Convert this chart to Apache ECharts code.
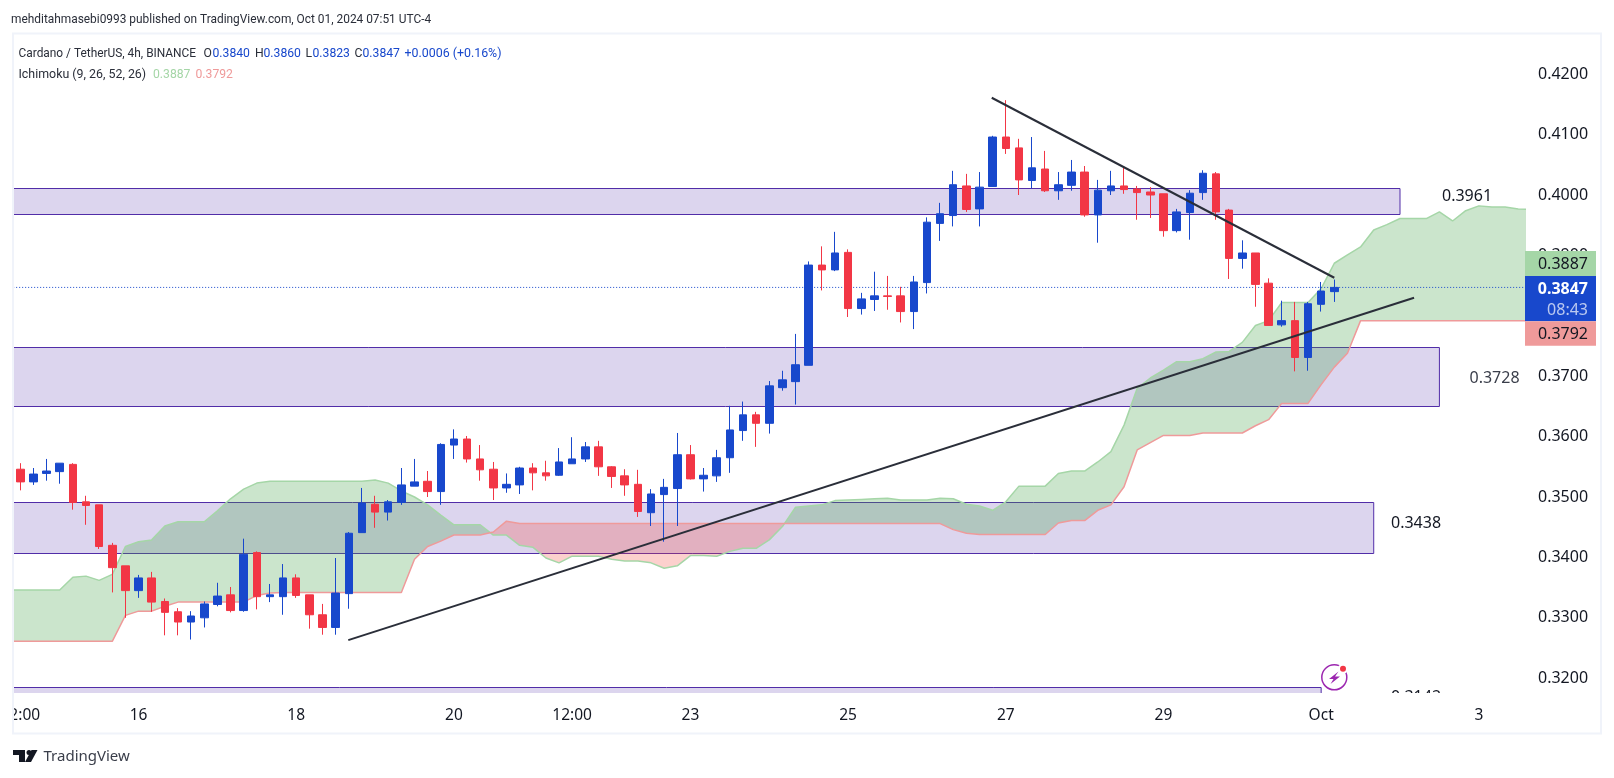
<!DOCTYPE html>
<html>
<head>
<meta charset="utf-8">
<style>html,body{margin:0;padding:0;background:#fff}#c{width:1614px;height:778px}</style>
<script src="https://cdn.jsdelivr.net/npm/echarts@6/dist/echarts.min.js"></script>
</head>
<body>
<div id="c"></div>
<script>
// [open, close, low, high], one 4h candle per row
const candles = [
[.3546,.3525,.3511,.3556],[.3525,.3538,.3520,.3548],[.3539,.3543,.3527,.3563],[.3542,.3556,.3522,.3556],
[.3554,.3491,.3479,.3556],[.3492,.3486,.3454,.3502],[.3487,.3418,.3414,.3487],[.3420,.3383,.3342,.3424],
[.3386,.3345,.3300,.3386],[.3345,.3366,.3333,.3371],[.3366,.3326,.3310,.3376],[.3327,.3309,.3271,.3332],
[.3310,.3293,.3271,.3316],[.3293,.3303,.3264,.3311],[.3300,.3323,.3284,.3327],[.3322,.3336,.3319,.3358],
[.3338,.3312,.3309,.3351],[.3312,.3405,.3310,.3431],[.3408,.3335,.3314,.3410],[.3335,.3338,.3326,.3356],
[.3335,.3366,.3305,.3389],[.3366,.3337,.3333,.3372],[.3338,.3305,.3282,.3338],[.3305,.3284,.3272,.3323],
[.3284,.3341,.3272,.3399],[.3340,.3440,.3315,.3442],[.3441,.3490,.3441,.3515],[.3488,.3475,.3449,.3502],
[.3475,.3492,.3461,.3495],[.3491,.3520,.3487,.3548],[.3518,.3525,.3518,.3563],[.3526,.3509,.3500,.3543],
[.3509,.3587,.3487,.3589],[.3586,.3596,.3563,.3612],[.3596,.3563,.3557,.3601],[.3563,.3545,.3527,.3586],
[.3546,.3515,.3495,.3558],[.3515,.3521,.3507,.3539],[.3520,.3548,.3505,.3550],[.3548,.3540,.3511,.3556],
[.3540,.3535,.3527,.3560],[.3536,.3558,.3535,.3581],[.3555,.3563,.3555,.3599],[.3563,.3583,.3558,.3591],
[.3583,.3550,.3535,.3593],[.3550,.3534,.3515,.3551],[.3535,.3520,.3502,.3546],[.3521,.3476,.3467,.3545],
[.3474,.3505,.3452,.3513],[.3504,.3516,.3426,.3530],[.3514,.3570,.3452,.3606],[.3570,.3530,.3529,.3586],
[.3530,.3536,.3509,.3548],[.3535,.3565,.3525,.3578],[.3565,.3611,.3540,.3651],[.3610,.3636,.3593,.3658],
[.3636,.3622,.3583,.3641],[.3622,.3684,.3605,.3692],[.3681,.3694,.3676,.3709],[.3691,.3719,.3653,.3770],
[.3718,.3884,.3718,.3890],[.3884,.3876,.3842,.3915],[.3876,.3904,.3874,.3939],[.3905,.3812,.3798,.3910],
[.3812,.3828,.3802,.3838],[.3827,.3833,.3808,.3873],[.3833,.3832,.3810,.3866],[.3833,.3807,.3789,.3848],
[.3807,.3856,.3778,.3866],[.3855,.3955,.3837,.3963],[.3953,.3969,.3924,.3987],[.3966,.4017,.3948,.4040],
[.4015,.3976,.3972,.4035],[.3977,.4013,.3948,.4038],[.4014,.4096,.4014,.4098],[.4096,.4077,.4068,.4157],
[.4078,.4025,.4000,.4093],[.4024,.4045,.4011,.4096],[.4043,.4007,.4005,.4073],[.4007,.4017,.3992,.4038],
[.4016,.4038,.4007,.4058],[.4038,.3967,.3964,.4048],[.3967,.4008,.3921,.4025],[.4007,.4015,.4000,.4040],
[.4015,.4009,.4002,.4045],[.4010,.4004,.3959,.4015],[.4005,.4000,.3962,.4013],[.4002,.3941,.3931,.4002],
[.3941,.3972,.3938,.3977],[.3971,.4003,.3926,.4008],[.4004,.4036,.3992,.4041],[.4035,.3972,.3959,.4038],
[.3975,.3895,.3861,.3977],[.3895,.3904,.3878,.3925],[.3904,.3852,.3815,.3904],[.3854,.3784,.3784,.3862],
[.3785,.3792,.3782,.3825],[.3792,.3731,.3708,.3823],[.3731,.3820,.3709,.3823],[.3819,.3841,.3807,.3856],
[.3840,.3847,.3823,.3860]
];
// Ichimoku spans, one value per bar slot starting one slot left of the first candle
const spanA = [
.3346,.3346,.3346,.3346,.3346,.3367,.3369,.3362,.3372,.3418,.3426,.3429,.3452,.3459,.3459,.3459,.3477,.3497,.3513,.3523,.3526,
.3526,.3526,.3526,.3526,.3526,.3526,.3526,.3528,.3523,.3510,.3500,.3487,.3470,.3454,.3454,.3454,.3437,.3437,.3420,.3417,
.3399,.3391,.3402,.3402,.3402,.3397,.3394,.3394,.3391,.3382,.3386,.3403,.3403,.3402,.3410,.3415,.3415,.3429,.3451,.3483,
.3485,.3487,.3494,.3495,.3496,.3497,.3498,.3495,.3495,.3495,.3498,.3497,.3488,.3485,.3478,.3492,.3518,.3518,.3518,.3539,
.3543,.3543,.3558,.3575,.3619,.3680,.3697,.3710,.3724,.3724,.3729,.3740,.3741,.3756,.3784,.3792,.3822,.3822,.3822,.3845,
.3887,.3901,.3914,.3942,.3951,.3961,.3961,.3961,.3972,.3957,.3974,.3982,.3980,.3980,.3977,.3976
];
const spanB = [
.3261,.3261,.3261,.3261,.3261,.3261,.3261,.3261,.3261,.3304,.3311,.3311,.3319,.3326,.3326,.3326,.3326,.3326,.3326,.3337,.3341,
.3342,.3342,.3342,.3342,.3342,.3342,.3342,.3342,.3342,.3342,.3397,.3418,.3427,.3437,.3437,.3437,.3442,.3460,.3456,.3456,
.3456,.3456,.3456,.3456,.3456,.3456,.3456,.3456,.3456,.3456,.3456,.3456,.3456,.3456,.3456,.3456,.3456,.3456,.3456,.3456,
.3456,.3456,.3456,.3456,.3456,.3456,.3456,.3456,.3456,.3456,.3456,.3446,.3440,.3438,.3438,.3438,.3438,.3438,.3438,.3457,
.3461,.3461,.3478,.3487,.3517,.3578,.3590,.3602,.3602,.3602,.3606,.3606,.3606,.3606,.3618,.3628,.3655,.3655,.3655,.3686,
.3715,.3738,.3792,.3792,.3792,.3792,.3792,.3792,.3792,.3792,.3792,.3792,.3792,.3792,.3792,.3792
];
// Supply/demand zones: top price, bottom price, last bar slot
const zoneTops = [.4011,.3748,.3492,.3185];
const zoneBottoms = [.3968,.3650,.3408,.3100];
const zoneEnds = [105,108,103,99];
// Trend lines: bar slot, price
const fallingLine = [[73.93,.4161],[100,.3863]];
const risingLine = [[24.96,.3263],[106.07,.3830]];
const lastClose = .3847;
const slotCount = 115;
const timeTickSlots = [0,9,21,33,42,51,63,75,87,99,111];
const timeTickLabels = ['12:00','16','18','20','12:00','23','25','27','29','Oct','3'];
const publishLine = 'mehditahmasebi0993 published on TradingView.com, Oct 01, 2024 07:51 UTC-4';

const BLUE='#1848cc', RED='#f23645', INK='#131722', TEXT='#2a2e39';
const FONT='"Noto Sans"', HEAD='Roboto';
const categories = Array.from({length:slotCount},()=> '');
timeTickSlots.forEach((s,i)=>{categories[s]=timeTickLabels[i];});

// Split the cloud into runs of one sign, adding the crossing points between the spans
const cloudRuns = [];
(function(){
  let run=null;
  for(let k=0;k<spanA.length;k++){
    const x=k-1,a=spanA[k],b=spanB[k],sign=a>=b?1:-1;
    if(!run){run={sign,up:[],lo:[]};}
    else if(sign!==run.sign){
      const pa=spanA[k-1],pb=spanB[k-1],t=(pb-pa)/((a-pa)-(b-pb));
      const cx=x-1+t,cy=pa+(a-pa)*t;
      run.up.push([cx,cy]);run.lo.push([cx,cy]);cloudRuns.push(run);
      run={sign,up:[[cx,cy]],lo:[[cx,cy]]};
    }
    run.up.push([x,a]);run.lo.push([x,b]);
  }
  cloudRuns.push(run);
})();

const lineData = arr => arr.map((v,k)=>[k-1,v]);
function lineSeries(data,style,z){
  return {type:'line',xAxisIndex:1,yAxisIndex:0,data,symbol:'none',silent:true,z,lineStyle:style,animation:false};
}
const series=[
 {type:'custom',name:'Zones',xAxisIndex:1,yAxisIndex:0,z:1,clip:true,silent:true,animation:false,
  data:zoneEnds.map((e,i)=>[-3,e,zoneBottoms[i],zoneTops[i]]),encode:{x:[0,1],y:[2,3]},
  renderItem(p,api){
    const a=api.coord([api.value(0),api.value(3)]),b=api.coord([api.value(1),api.value(2)]);
    return {type:'rect',shape:{x:a[0],y:Math.round(a[1])+.5,width:b[0]-a[0],height:Math.round(b[1])-Math.round(a[1])},
      style:{fill:'rgba(81,45,168,0.2)',stroke:'#512da8',lineWidth:1}};
  }},
 {type:'custom',name:'Cloud',xAxisIndex:1,yAxisIndex:0,z:2,clip:true,silent:true,animation:false,
  data:cloudRuns.map((r,i)=>[r.up[0][0],r.up[0][1],i]),encode:{x:0,y:1},
  renderItem(p,api){
    const r=cloudRuns[api.value(2)];
    const pts=r.up.concat(r.lo.slice().reverse()).map(q=>api.coord(q));
    return {type:'polygon',shape:{points:pts},style:{fill:r.sign>0?'rgba(67,160,71,0.28)':'rgba(244,67,54,0.25)'}};
  }},
 lineSeries(lineData(spanA),{color:'#a5d6a7',width:1.5},3),
 lineSeries(lineData(spanB),{color:'#ef9a9a',width:1.5},3),
 lineSeries([[-1,lastClose],[slotCount,lastClose]],{color:BLUE,width:1,type:[1,2]},3),
 {type:'candlestick',name:'ADAUSDT',xAxisIndex:0,yAxisIndex:0,z:4,barWidth:8,silent:true,animation:false,
  data:candles,itemStyle:{color:BLUE,color0:RED,borderColor:BLUE,borderColor0:RED,borderWidth:1}},
 lineSeries(fallingLine,{color:'#2a2e39',width:2},5),
 lineSeries(risingLine,{color:'#2a2e39',width:2},5)
];

function t(text,x,y,fill,size,opt){
  return Object.assign({type:'text',z:80,silent:true,style:Object.assign({text,x,y,fill,font:(size||13)+'px '+FONT,textAlign:'left',textVerticalAlign:'middle'},opt||{})});
}
const h=(text,x,y,fill,size)=>t(text,x,y,fill,12.2,{font:(size||12.2)+'px '+HEAD});
function rect(x,y,w,h,fill,z){return {type:'rect',z,silent:true,shape:{x,y,width:w,height:h},style:{fill}};}
const graphic=[
 t('0.3961',1442,196.2,INK,16),
 t('0.3728',1469.5,378.2,'#3a3e4a',16),
 t('0.3438',1391,523.2,INK,16),
 Object.assign(t('0.3142',1391,697,INK,16),{z:10}),
 rect(0,0,1614,33,'#fff',50),
 rect(0,693,1614,60,'#fff',50),
 rect(0,693,12,41,'#fff',150),
 {type:'rect',z:160,silent:true,shape:{x:13,y:33.5,width:1588,height:700},style:{fill:'none',stroke:'#f0f3fa',lineWidth:2}},
 h(publishLine,11,20,TEXT,11.9),
 h('Cardano / TetherUS, 4h, BINANCE',18.5,54,TEXT,11.9),
 h('O',203.5,54,TEXT),h('0.3840',212.5,54,BLUE),
 h('H',255,54,TEXT),h('0.3860',263.5,54,BLUE),
 h('L',305.5,54,TEXT),h('0.3823',312.5,54,BLUE),
 h('C',354.5,54,TEXT),h('0.3847',362.5,54,BLUE),
 h('+0.0006 (+0.16%)',404.5,54,BLUE,12.4),
 h('Ichimoku (9, 26, 52, 26)',18.5,75,TEXT,12.4),
 h('0.3887',153,75,'#a5d6a7'),h('0.3792',195.5,75,'#ef9a9a'),
 rect(1525,251,71,25,'#a5d6a7',60),
 rect(1525,276,71,45.3,BLUE,60),
 rect(1525,321.3,71,24.4,'#ef9a9a',60),
 t('0.3887',1588,264.7,INK,16,{textAlign:'right'}),
 t('0.3847',1588,289.3,'#fff',16,{textAlign:'right',font:'bold 16px '+FONT}),
 t('08:43',1588,310,'rgba(255,255,255,0.7)',16,{textAlign:'right'}),
 t('0.3792',1588,334.5,INK,16,{textAlign:'right'}),
 // session-break icon
 {type:'circle',z:70,silent:true,shape:{cx:1334.3,cy:677.3,r:12.5},style:{fill:'none',stroke:'#9c27b0',lineWidth:1.5}},
 {type:'circle',z:71,silent:true,shape:{cx:1343,cy:668.7,r:5},style:{fill:'#fff'}},
 {type:'circle',z:72,silent:true,shape:{cx:1343,cy:668.7,r:3},style:{fill:RED}},
 {type:'polygon',z:72,silent:true,shape:{points:[[1338.5,671.5],[1329,679],[1333.5,679],[1330.5,684],[1340,676.5],[1335,676.5]]},style:{fill:'#9c27b0'}},
 // logo
 {type:'polygon',z:80,silent:true,shape:{points:[[13,750],[25,750],[25,762],[19,762],[19,755],[13,755]]},style:{fill:INK}},
 {type:'circle',z:80,silent:true,shape:{cx:29,cy:752.5,r:2.5},style:{fill:INK}},
 {type:'polygon',z:80,silent:true,shape:{points:[[31.5,750],[37.5,750],[31,762],[25,762]]},style:{fill:INK}},
 t('TradingView',43.5,757,'#3a3e4a',15)
];

const chart=echarts.init(document.getElementById('c'),null,{renderer:'canvas'});
chart.setOption({
 animation:false,
 backgroundColor:'#fff',
 tooltip:{show:false},
 grid:{left:13.73,top:13.8,width:1511.1,height:724.8,containLabel:false,outerBoundsMode:'none'},
 xAxis:[
  {type:'category',data:categories,boundaryGap:true,position:'bottom',offset:-23.5,z:100,
   axisLine:{show:false},axisTick:{show:false},splitLine:{show:false},
   axisLabel:{interval:0,margin:0,color:INK,fontSize:15.5,fontFamily:FONT,verticalAlign:'middle',hideOverlap:false}},
  {type:'value',min:-.5,max:slotCount-.5,show:false,splitLine:{show:false}}
 ],
 yAxis:[{type:'value',position:'right',min:.31,max:.43,interval:.01,scale:true,
   axisLine:{show:false},axisTick:{show:false},splitLine:{show:false},
   axisLabel:{showMinLabel:false,showMaxLabel:false,align:'right',margin:63.2,color:INK,fontSize:16,fontFamily:FONT,padding:[2.4,0,0,0],
     formatter:v=>v.toFixed(4)}}],
 series,
 graphic
});
</script>
</body>
</html>
